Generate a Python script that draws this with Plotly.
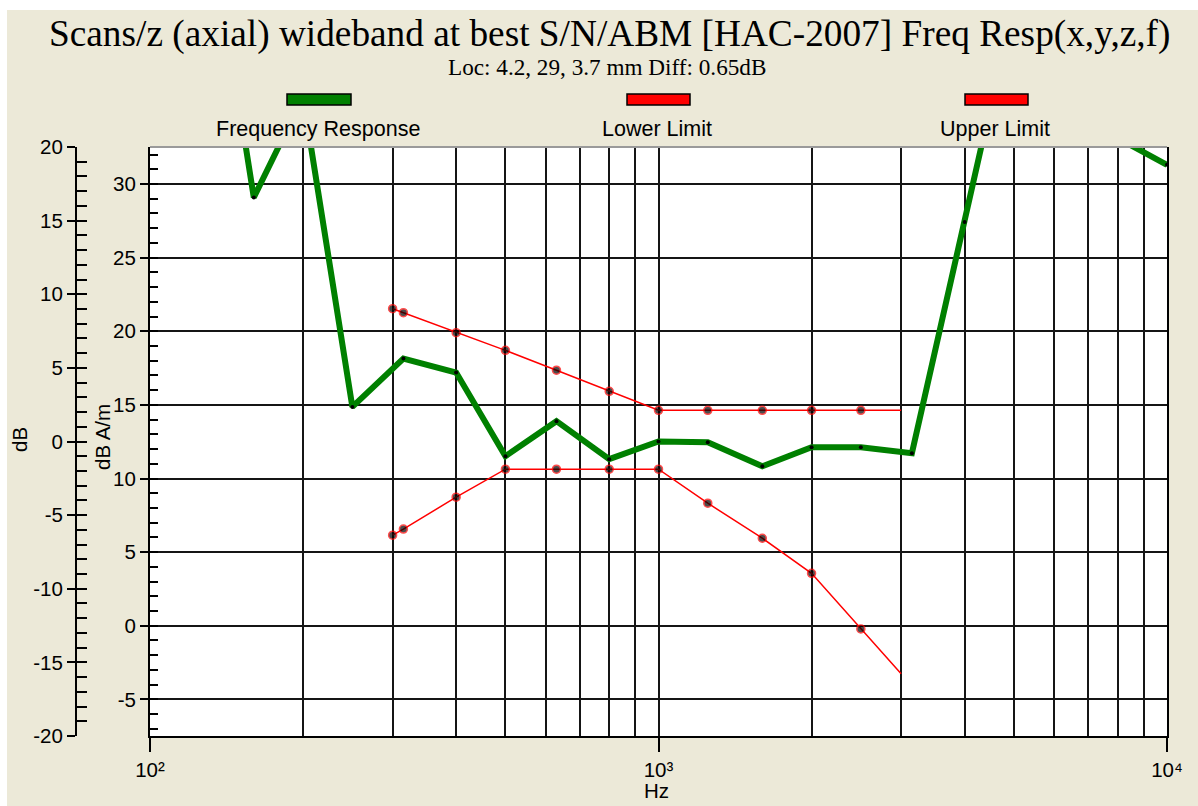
import plotly.graph_objects as go

# ---- data (dB, relative) ----
freq_resp_hz = [125, 160, 200, 250, 315, 400, 500, 630, 800, 1000, 1250, 1600,
                2000, 2500, 3150, 4000, 5000, 6300, 8000, 10000]
freq_resp_db = [40.0, 16.57, 23.4, 2.35, 5.63, 4.68, -1.0, 1.38, -1.2, 0.0, -0.05, -1.68,
                -0.39, -0.39, -0.8, 14.9, 29.8, 26.0, 20.6, 18.79]

limit_hz = [300, 315, 400, 500, 630, 800, 1000, 1250, 1600, 2000, 2500, 3000]
upper_db = [9.02, 8.75, 7.39, 6.19, 4.84, 3.41, 2.12, 2.12, 2.12, 2.12, 2.12, 2.12]
lower_db = [-6.36, -5.95, -3.78, -1.88, -1.88, -1.88, -1.88, -4.19, -6.57, -8.95, -12.73, -15.78]

x_tick_vals = [100, 1000, 10000]
x_tick_text = ["10²", "10³", "10⁴"]
x_minor_vals = [200, 300, 400, 500, 600, 700, 800, 900,
                2000, 3000, 4000, 5000, 6000, 7000, 8000, 9000]

db_ticks = [-20, -15, -10, -5, 0, 5, 10, 15, 20]
dbam_ticks = [-5, 0, 5, 10, 15, 20, 25, 30]

# ---- page geometry ----
W, H = 1198, 806
ML, MR, MT, MB = 76, 31, 147, 70
PW, PH = W - ML - MR, H - MT - MB
INNER_LEFT = 150


def px(x):
    return (x - ML) / PW


def py(y):
    return (H - MB - y) / PH


def labels(vals):
    return [str(v) for v in vals]


BG = "#ECE9D8"
GRID = "#151515"
SANS = "Liberation Sans, Arial, sans-serif"
SERIF = "Liberation Serif, Times New Roman, serif"

fig = go.Figure()

# invisible anchors so every axis gets drawn
for ax in ("y", "y3"):
    fig.add_trace(go.Scatter(x=[1000], y=[0], xaxis="x", yaxis=ax,
                             mode="markers", marker=dict(opacity=0),
                             showlegend=False))

fig.add_trace(go.Scatter(
    x=freq_resp_hz, y=freq_resp_db, xaxis="x", yaxis="y2",
    mode="lines+markers", name="Frequency Response",
    line=dict(color="#008000", width=6),
    marker=dict(color="black", size=4),
))

limit_marker_sizes = [8] * (len(limit_hz) - 1) + [0]
for name, vals in (("Lower Limit", lower_db), ("Upper Limit", upper_db)):
    fig.add_trace(go.Scatter(
        x=limit_hz, y=vals, xaxis="x", yaxis="y2",
        mode="lines+markers", name=name,
        line=dict(color="#FF0000", width=1.5),
        marker=dict(color="black", size=limit_marker_sizes,
                    line=dict(color="#FF0000", width=1.5)),
    ))

# inner axis offset (dB A/m) relative to the outer dB scale
inner_top = 30 + (184 - MT) / (PH / 40)
inner_range = [inner_top - 40, inner_top]

tick_font = dict(family=SANS, size=20.5, color="black")

fig.update_layout(
    width=W, height=H,
    paper_bgcolor=BG, plot_bgcolor="white",
    margin=dict(l=ML, r=MR, t=MT, b=MB, autoexpand=False),
    showlegend=False,
    hovermode=False,
    xaxis=dict(
        type="log", range=[2, 4], domain=[px(INNER_LEFT), 1],
        anchor="y",
        tickvals=x_tick_vals, ticktext=x_tick_text,
        ticks="outside", ticklen=14, tickwidth=2, tickcolor="black",
        tickfont=tick_font,
        showgrid=True, gridcolor=GRID, gridwidth=2,
        showline=True, linecolor="black", linewidth=2,
        minor=dict(tickvals=x_minor_vals, showgrid=True,
                   gridcolor=GRID, gridwidth=2, ticks=""),
        zeroline=False, automargin=False,
    ),
    yaxis=dict(
        range=inner_range, anchor="x", side="left",
        tickvals=dbam_ticks, ticktext=labels(dbam_ticks),
        ticks="outside", ticklen=8, tickwidth=2, tickcolor="black",
        tickfont=tick_font,
        showgrid=True, gridcolor=GRID, gridwidth=2,
        showline=True, mirror=True, linecolor="black", linewidth=2,
        minor=dict(dtick=1, tick0=0, ticks="inside", ticklen=8,
                   tickwidth=2, tickcolor="black", showgrid=False),
        zeroline=False, automargin=False,
    ),
    yaxis2=dict(
        range=[-20, 20], overlaying="y", anchor="free", position=0, side="left",
        tickvals=db_ticks, ticktext=labels(db_ticks),
        ticks="outside", ticklen=8, tickwidth=2, tickcolor="black",
        tickfont=tick_font,
        showgrid=False, showline=True, linecolor="black", linewidth=2,
        zeroline=False, automargin=False,
    ),
    yaxis3=dict(
        range=[-20, 20], overlaying="y", anchor="free", position=0, side="left",
        tickvals=db_ticks,
        ticks="inside", ticklen=10, tickwidth=2, tickcolor="black",
        showticklabels=False, showgrid=False, showline=False,
        minor=dict(dtick=1, tick0=0, ticks="inside", ticklen=10,
                   tickwidth=2, tickcolor="black", showgrid=False),
        zeroline=False, automargin=False,
    ),
)

shapes = [
    # top frame line of the plotting area
    dict(type="line", xref="paper", yref="paper", x0=px(INNER_LEFT), x1=1,
         y0=1, y1=1, line=dict(color="#9a9a9a", width=2), layer="above"),
    # window edges
    dict(type="rect", xref="paper", yref="paper", x0=px(0), x1=px(7),
         y0=py(H), y1=py(0), fillcolor="white", line=dict(width=0), layer="above"),
    dict(type="rect", xref="paper", yref="paper", x0=px(0), x1=px(W),
         y0=py(10), y1=py(0), fillcolor="white", line=dict(width=0), layer="above"),
]

# legend: swatch above each label
legend_items = [("Frequency Response", "#008000", 287, 351, 318),
                ("Lower Limit", "#FF0000", 627, 690, 657),
                ("Upper Limit", "#FF0000", 965, 1028, 995)]
annotations = []
for label, color, x0, x1, xc in legend_items:
    shapes.append(dict(type="rect", xref="paper", yref="paper",
                       x0=px(x0), x1=px(x1), y0=py(105), y1=py(94),
                       fillcolor=color, line=dict(color="black", width=1.5)))
    annotations.append(dict(text=label, xref="paper", yref="paper",
                            x=px(xc), y=py(129), xanchor="center", yanchor="middle",
                            showarrow=False, font=dict(family=SANS, size=21.5, color="black")))

annotations += [
    dict(text="Scans/z (axial) wideband at best S/N/ABM [HAC-2007] Freq Resp(x,y,z,f)",
         xref="paper", yref="paper", x=px(609), y=py(34), xanchor="center", yanchor="middle",
         showarrow=False, font=dict(family=SERIF, size=37.3, color="black")),
    dict(text="Loc: 4.2, 29, 3.7 mm Diff: 0.65dB",
         xref="paper", yref="paper", x=px(607), y=py(67), xanchor="center", yanchor="middle",
         showarrow=False, font=dict(family=SERIF, size=23.2, color="black")),
    dict(text="dB", xref="paper", yref="paper", x=px(19), y=py(440),
         xanchor="center", yanchor="middle", textangle=-90, showarrow=False,
         font=dict(family=SANS, size=20.5, color="black")),
    dict(text="dB A/m", xref="paper", yref="paper", x=px(102), y=py(437),
         xanchor="center", yanchor="middle", textangle=-90, showarrow=False,
         font=dict(family=SANS, size=20.5, color="black")),
    dict(text="Hz", xref="paper", yref="paper", x=px(656), y=py(790),
         xanchor="center", yanchor="middle", showarrow=False,
         font=dict(family=SANS, size=20.5, color="black")),
]

fig.update_layout(shapes=shapes, annotations=annotations)

fig.write_html("out.html")
